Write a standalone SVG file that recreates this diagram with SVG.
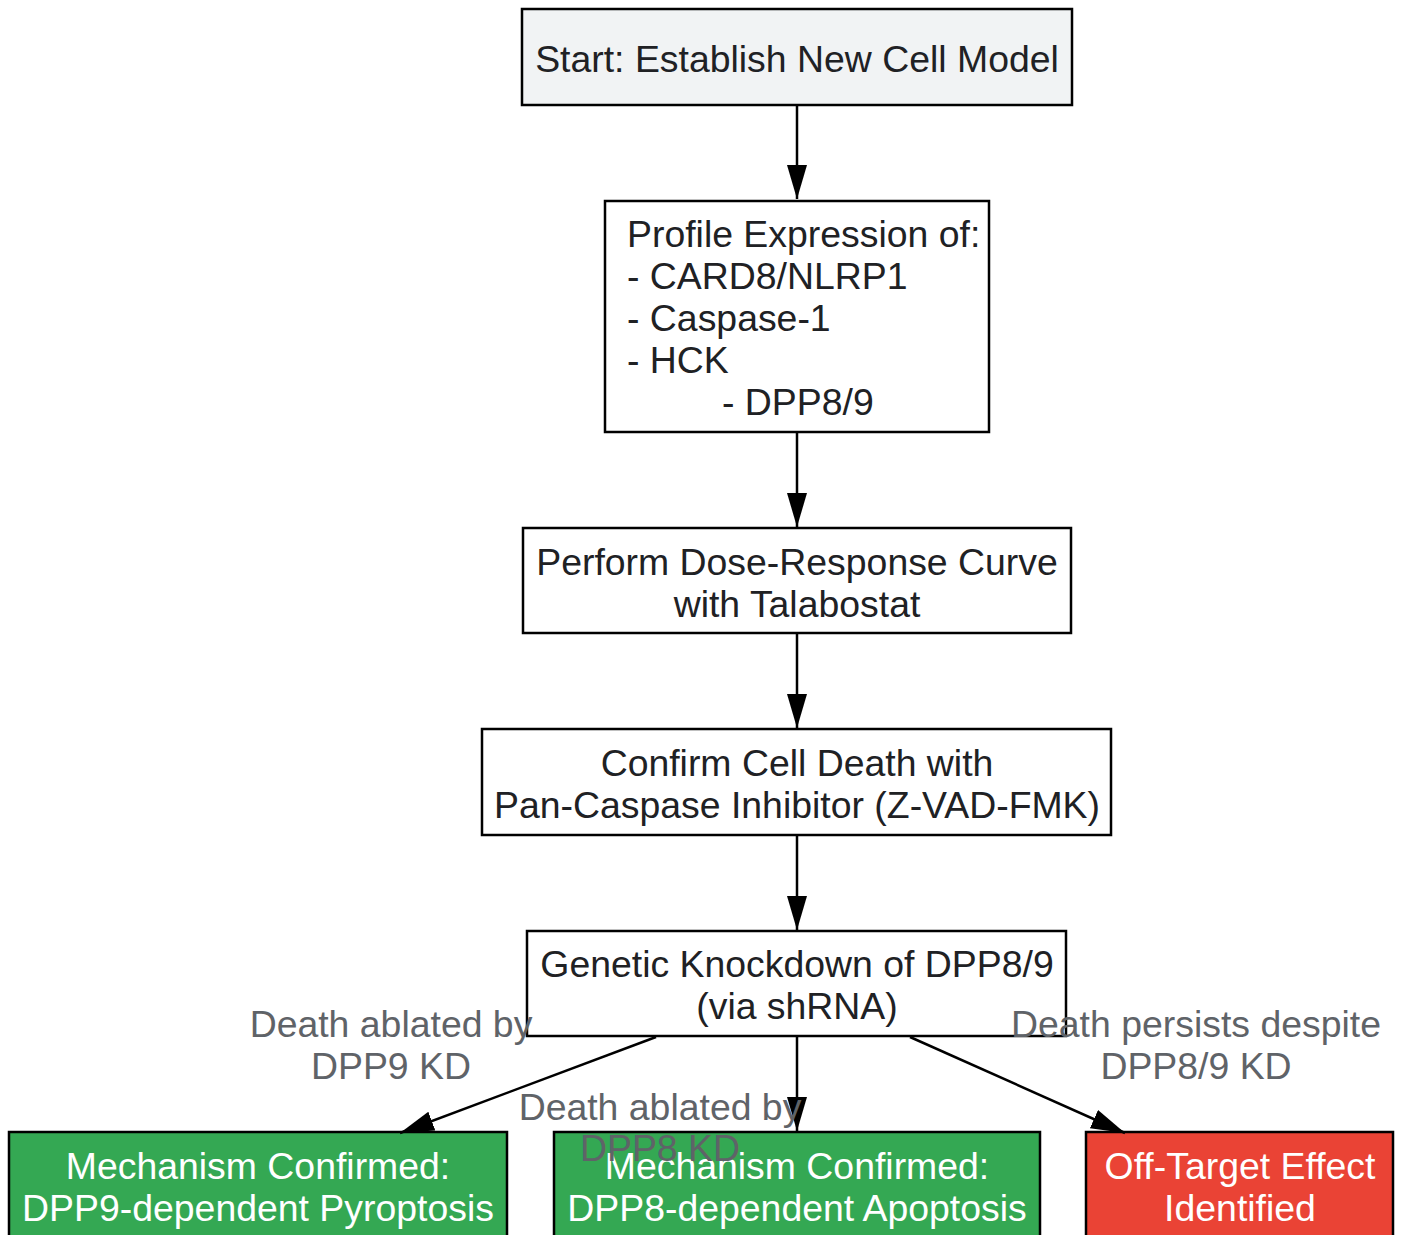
<svg xmlns="http://www.w3.org/2000/svg" width="1401" height="1235" viewBox="0 0 1401 1235">
<defs>
<marker id="ah" markerUnits="userSpaceOnUse" markerWidth="36" markerHeight="22" refX="34" refY="10" orient="auto"><path d="M0,0 L34,10 L0,20 z" fill="#000"/></marker>
<style>
.n{stroke:#000;stroke-width:2.5}
.t{font-family:"Liberation Sans",Arial,sans-serif;font-size:37.4px;fill:#202124}
.w{font-family:"Liberation Sans",Arial,sans-serif;font-size:37.4px;fill:#fff}
.l{font-family:"Liberation Sans",Arial,sans-serif;font-size:37.4px;fill:#5f6368}
.e{stroke:#000;stroke-width:2.5;fill:none;marker-end:url(#ah)}
</style>
</defs>
<rect width="1401" height="1235" fill="#fff"/>
<g id="n1"><rect class="n" x="522" y="9" width="550" height="96" fill="#f1f3f4"/><text class="t" x="797" y="72" text-anchor="middle">Start: Establish New Cell Model</text></g>
<g id="n2"><rect class="n" x="605" y="201" width="384" height="231" fill="#fff"/>
<text class="t" x="627" y="247">Profile Expression of:</text>
<text class="t" x="627" y="289">- CARD8/NLRP1</text>
<text class="t" x="627" y="331">- Caspase-1</text>
<text class="t" x="627" y="373">- HCK</text>
<text class="t" x="722" y="415">- DPP8/9</text></g>
<g id="n3"><rect class="n" x="523" y="528" width="548" height="105" fill="#fff"/>
<text class="t" x="797" y="575" text-anchor="middle">Perform Dose-Response Curve</text>
<text class="t" x="797" y="617" text-anchor="middle">with Talabostat</text></g>
<g id="n4"><rect class="n" x="482" y="729" width="629" height="106" fill="#fff"/>
<text class="t" x="797" y="776" text-anchor="middle">Confirm Cell Death with</text>
<text class="t" x="797" y="818" text-anchor="middle">Pan-Caspase Inhibitor (Z-VAD-FMK)</text></g>
<g id="n5"><rect class="n" x="527" y="931" width="539" height="105" fill="#fff"/>
<text class="t" x="797" y="977" text-anchor="middle">Genetic Knockdown of DPP8/9</text>
<text class="t" x="797" y="1019" text-anchor="middle">(via shRNA)</text></g>
<g id="n6"><rect class="n" x="9" y="1132" width="498" height="110" fill="#34a853"/>
<text class="w" x="258" y="1179" text-anchor="middle">Mechanism Confirmed:</text>
<text class="w" x="258" y="1221" text-anchor="middle">DPP9-dependent Pyroptosis</text></g>
<g id="n7"><rect class="n" x="554" y="1132" width="486" height="110" fill="#34a853"/>
<text class="w" x="797" y="1179" text-anchor="middle">Mechanism Confirmed:</text>
<text class="w" x="797" y="1221" text-anchor="middle">DPP8-dependent Apoptosis</text></g>
<g id="n8"><rect class="n" x="1086" y="1132" width="307" height="110" fill="#ea4335"/>
<text class="w" x="1240" y="1179" text-anchor="middle">Off-Target Effect</text>
<text class="w" x="1240" y="1221" text-anchor="middle">Identified</text></g>
<g id="edges">
<line class="e" x1="797" y1="105" x2="797" y2="199"/>
<line class="e" x1="797" y1="432" x2="797" y2="527"/>
<line class="e" x1="797" y1="633" x2="797" y2="728"/>
<line class="e" x1="797" y1="835" x2="797" y2="930"/>
<line class="e" x1="656" y1="1037" x2="400" y2="1133"/>
<line class="e" x1="797" y1="1037" x2="797" y2="1131"/>
<line class="e" x1="910" y1="1037" x2="1125" y2="1133"/>
<text class="l" x="391" y="1037" text-anchor="middle">Death ablated by</text>
<text class="l" x="391" y="1079" text-anchor="middle">DPP9 KD</text>
<text class="l" x="660" y="1120" text-anchor="middle">Death ablated by</text>
<text class="l" x="660" y="1161" text-anchor="middle">DPP8 KD</text>
<text class="l" x="1196" y="1037" text-anchor="middle">Death persists despite</text>
<text class="l" x="1196" y="1079" text-anchor="middle">DPP8/9 KD</text>
</g>
</svg>
